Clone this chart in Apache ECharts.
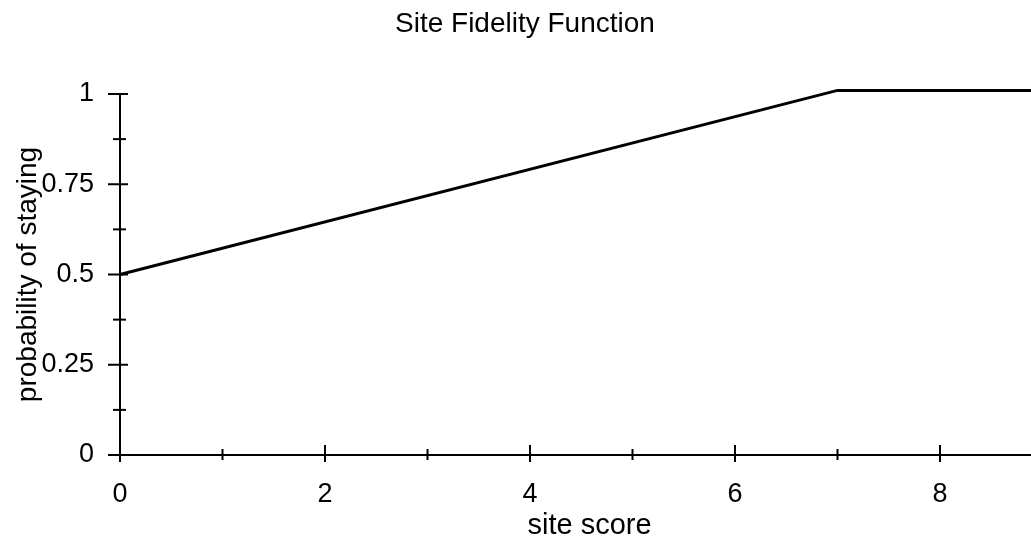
<!DOCTYPE html>
<html>
<head>
<meta charset="utf-8">
<script src="https://cdn.jsdelivr.net/npm/echarts@6/dist/echarts.min.js"></script>
<style>
html,body{margin:0;padding:0;background:#fff;}
#c{width:1031px;height:538px;}
</style>
</head>
<body>
<div id="c"></div>
<script>
var titleText = 'Site Fidelity Function';
var xName = 'site score';
var yName = 'probability of staying';
var siteScore = [0, 7, 9];
var probStaying = [0.5, 1.01, 1.01];
var xMajorTicks = [0, 2, 4, 6, 8];
var xMinorTicks = [1, 3, 5, 7, 9];
var yMajorTicks = [0, 0.25, 0.5, 0.75, 1];
var yMinorTicks = [0.125, 0.375, 0.625, 0.875];

var font = '"Liberation Sans", Arial, Helvetica, sans-serif';
var chart = echarts.init(document.getElementById('c'), null, {renderer: 'canvas'});

var lineData = siteScore.map(function (x, i) { return [x, probStaying[i]]; });

// tick items: [x, y, isMajor, isXAxis]
var tickData = [];
xMajorTicks.forEach(function (v) { tickData.push([v, 0, 1, 1]); });
xMinorTicks.forEach(function (v) { tickData.push([v, 0, 0, 1]); });
yMajorTicks.forEach(function (v) { tickData.push([0, v, 1, 0]); });
yMinorTicks.forEach(function (v) { tickData.push([0, v, 0, 0]); });

function renderTick(params, api) {
  var p = api.coord([api.value(0), api.value(1)]);
  var major = api.value(2) === 1;
  var isX = api.value(3) === 1;
  var shape;
  if (isX) {
    shape = major ? {x1: p[0], y1: p[1] - 10, x2: p[0], y2: p[1] + 7}
                  : {x1: p[0], y1: p[1] - 6, x2: p[0], y2: p[1] + 5};
  } else {
    shape = major ? {x1: p[0] - 12, y1: p[1], x2: p[0] + 8, y2: p[1]}
                  : {x1: p[0] - 7, y1: p[1], x2: p[0] + 6, y2: p[1]};
  }
  return {type: 'line', shape: shape, style: {stroke: '#000', lineWidth: 2}};
}

chart.setOption({
  animation: false,
  backgroundColor: '#fff',
  title: {
    text: titleText,
    left: 390,
    top: 5,
    textStyle: {fontFamily: font, fontSize: 28, fontWeight: 'normal', color: '#000'}
  },
  grid: {left: 120, top: 94, width: 1025, height: 361, containLabel: false, outerBoundsMode: 'none'},
  xAxis: {
    type: 'value', min: 0, max: 10, interval: 2, position: 'bottom',
    name: xName, nameLocation: 'middle', nameGap: 56, nameMoveOverlap: false,
    nameTextStyle: {fontFamily: font, fontSize: 29, color: '#000', padding: [0, 86, 0, 0]},
    axisLine: {lineStyle: {color: '#000', width: 2}},
    axisTick: {show: false},
    minorTick: {show: false},
    axisLabel: {fontFamily: font, fontSize: 27, color: '#000', margin: 26,
      formatter: function (v) { return v <= 8 ? String(v) : ''; }},
    splitLine: {show: false}
  },
  yAxis: {
    type: 'value', min: 0, max: 1, interval: 0.25, position: 'left',
    name: yName, nameLocation: 'middle', nameGap: 78, nameRotate: 90, nameMoveOverlap: false,
    nameTextStyle: {fontFamily: font, fontSize: 28, color: '#000'},
    axisLine: {show: true, lineStyle: {color: '#000', width: 2}},
    axisTick: {show: false},
    minorTick: {show: false},
    axisLabel: {fontFamily: font, fontSize: 27, color: '#000', margin: 26},
    splitLine: {show: false}
  },
  series: [{
    type: 'line',
    data: lineData,
    showSymbol: false,
    clip: false,
    lineStyle: {color: '#000', width: 3}
  }, {
    type: 'custom',
    data: tickData,
    clip: false,
    silent: true,
    renderItem: renderTick
  }]
});
</script>
</body>
</html>
